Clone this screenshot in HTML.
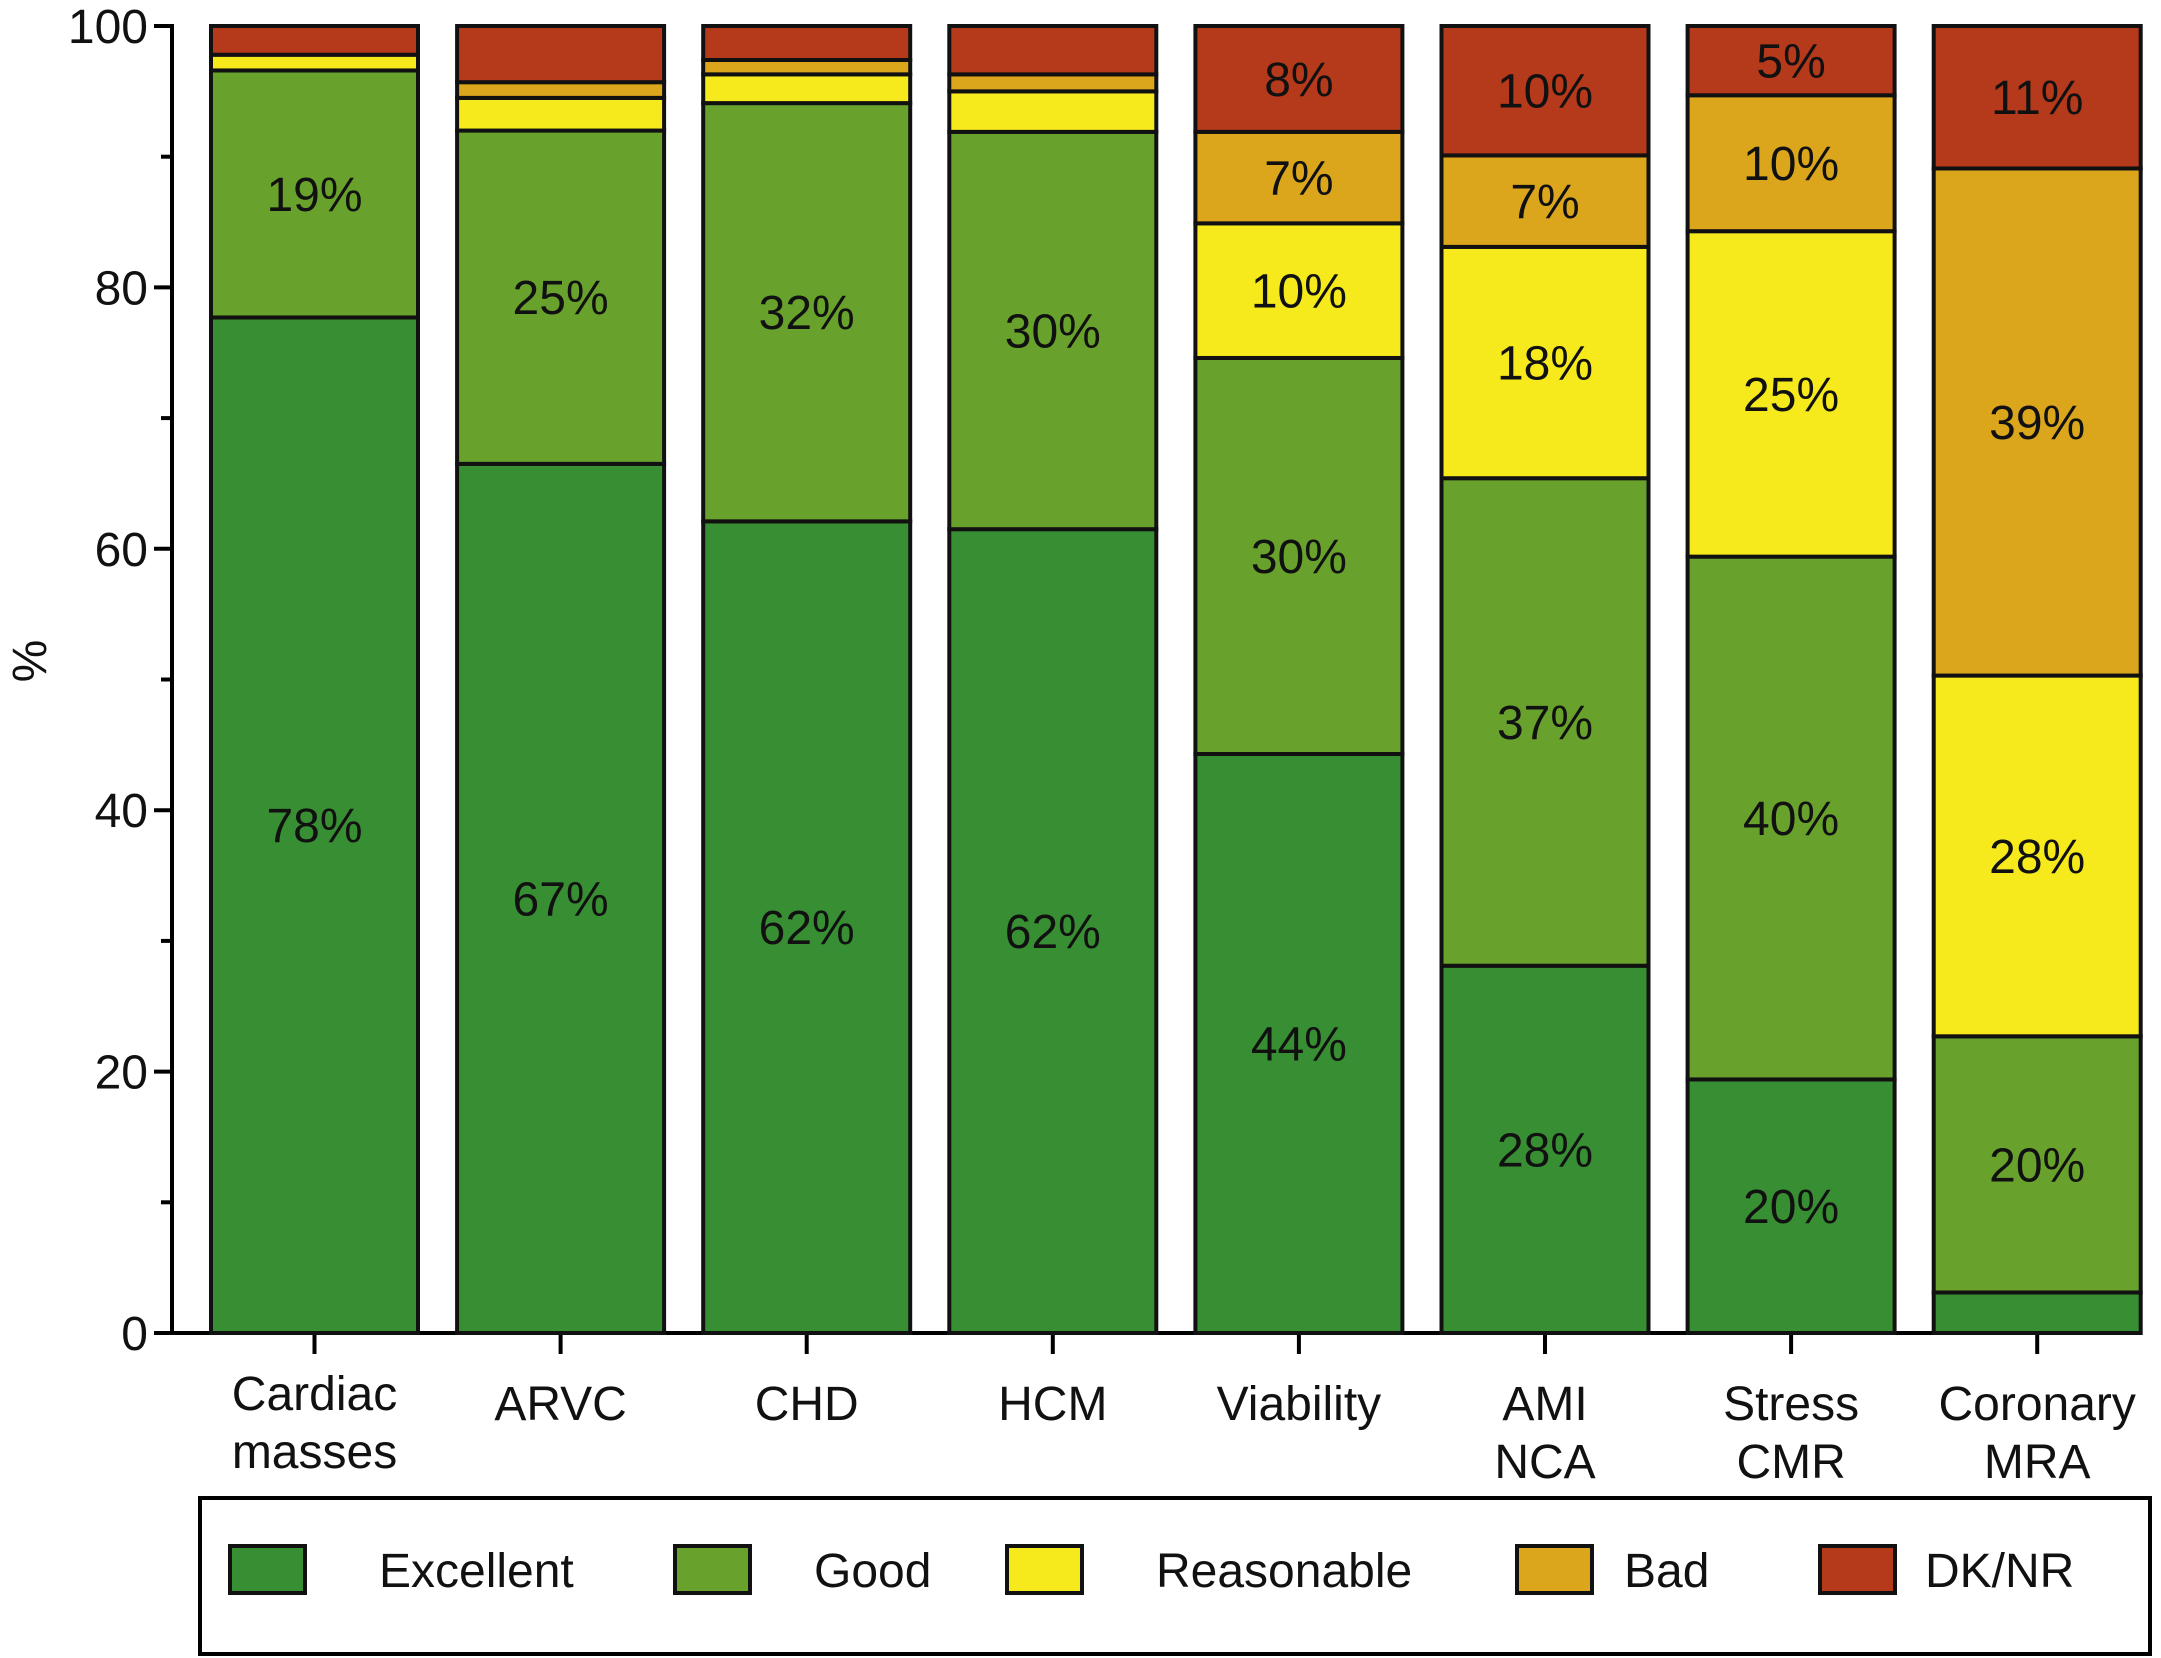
<!DOCTYPE html>
<html><head><meta charset="utf-8"><style>
html,body{margin:0;padding:0;background:#fff;}
svg{display:block;font-family:"Liberation Sans",Arial,sans-serif;}
</style></head><body>
<svg id="chart" width="2161" height="1658" viewBox="0 0 2161 1658">
<g id="axes"></g><g id="bars"></g><g id="legend"></g>
</svg>
<script>
const categories = [["Cardiac","masses"],["ARVC"],["CHD"],["HCM"],["Viability"],["AMI","NCA"],["Stress","CMR"],["Coronary","MRA"]];
const seriesNames = ["Excellent","Good","Reasonable","Bad","DK/NR"];
const excellent = [77.7,66.5,62.1,61.5,44.3,28.1,19.4,3.1];
const good = [18.9,25.5,32.0,30.4,30.3,37.3,40.0,19.6];
const reasonable = [1.2,2.5,2.2,3.1,10.3,17.7,24.9,27.6];
const bad = [0,1.2,1.1,1.3,7.0,7.0,10.4,38.8];
const dknr = [2.2,4.3,2.6,3.7,8.1,9.9,5.3,10.9];
const excellentLabels = ["78%","67%","62%","62%","44%","28%","20%",""];
const goodLabels = ["19%","25%","32%","30%","30%","37%","40%","20%"];
const reasonableLabels = ["","","","","10%","18%","25%","28%"];
const badLabels = ["","","","","7%","7%","10%","39%"];
const dknrLabels = ["","","","","8%","10%","5%","11%"];
const yTicks = [0,20,40,60,80,100];
const yMinorTicks = [10,30,50,70,90];

const NS="http://www.w3.org/2000/svg";
const colors=["#388e32","#68a22c","#f7ea1c","#dba61c","#b5391b"];
const series=[excellent,good,reasonable,bad,dknr];
const labels=[excellentLabels,goodLabels,reasonableLabels,badLabels,dknrLabels];
const segNames=["excellent","good","reasonable","bad","dk-nr"];
const Y0=1333,Y100=26,X0=211,PITCH=246.1,BW=207;
const FS=48;
const y=v=>Y0-(Y0-Y100)*v/100;
const xb=i=>X0+i*PITCH;
function mk(tag,attrs,parent){const e=document.createElementNS(NS,tag);for(const k in attrs)e.setAttribute(k,attrs[k]);parent.appendChild(e);return e;}
const axes=document.getElementById('axes'),bars=document.getElementById('bars'),legend=document.getElementById('legend');

let ax=mk('line',{x1:172,y1:Y100-2,x2:172,y2:Y0,stroke:'#000','stroke-width':4},axes);


let xl=mk('line',{x1:162,y1:Y0,x2:2142,y2:Y0,stroke:'#000','stroke-width':4},axes);


yTicks.forEach(v=>{
  const t=mk('line',{x1:154,y1:y(v),x2:172,y2:y(v),stroke:'#000','stroke-width':4},axes);
  
  
  const l=mk('text',{x:148,y:y(v)+17,'text-anchor':'end','font-size':FS,fill:'#111'},axes);
  l.textContent=v;
  
  
});
yMinorTicks.forEach(v=>{
  const t=mk('line',{x1:161,y1:y(v),x2:172,y2:y(v),stroke:'#000','stroke-width':4},axes);
  
  
});
const yt=mk('text',{x:46,y:661,'text-anchor':'middle','font-size':FS,fill:'#111',transform:'rotate(-90 46 661)'},axes);
yt.textContent='%';



categories.forEach((cat,i)=>{
  const cx=xb(i)+BW/2;
  const t=mk('line',{x1:cx,y1:Y0,x2:cx,y2:Y0+21,stroke:'#000','stroke-width':4},axes);
  
  
  const base = i===0?1410:1420;
  cat.forEach((line,j)=>{
    const l=mk('text',{x:cx,y:base+j*58,'text-anchor':'middle','font-size':FS,fill:'#111'},axes);
    l.textContent=line;
    
    
  });
  let acc=0;
  series.forEach((s,k)=>{
    const v=s[i]; if(v<=0) return;
    const top=y(acc+v),bot=y(acc);
    const r=mk('rect',{x:xb(i),y:top,width:BW,height:bot-top,fill:colors[k],stroke:'#111','stroke-width':4},bars);
    
    
    const lab=labels[k][i];
    if(lab){
      const tx=mk('text',{x:cx,y:(top+bot)/2+17,'text-anchor':'middle','font-size':FS,fill:'#111'},bars);
      tx.textContent=lab;
      
      
    }
    acc+=v;
  });
});

const lb=mk('rect',{x:200,y:1498,width:1950,height:156,fill:'none',stroke:'#000','stroke-width':4},legend);


const swX=[230,675,1007,1517,1820];
const txX=[379,814,1156,1624,1925];
seriesNames.forEach((n,k)=>{
  const s=mk('rect',{x:swX[k],y:1546,width:75,height:47,fill:colors[k],stroke:'#111','stroke-width':4},legend);
  
  
  const t=mk('text',{x:txX[k],y:1587,'font-size':FS,fill:'#111'},legend);
  t.textContent=n;
  
  
});
</script>
</body></html>
